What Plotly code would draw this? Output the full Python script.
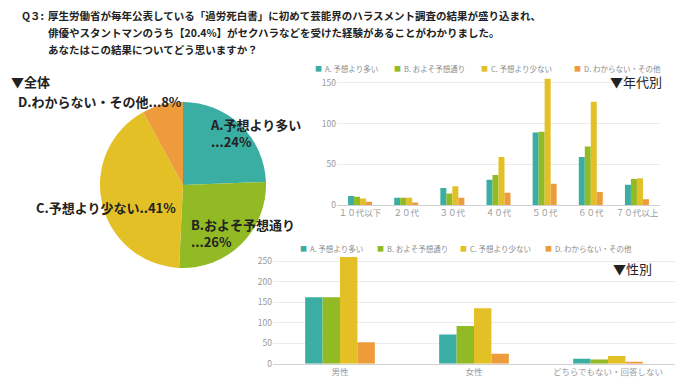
import plotly.graph_objects as go

W, H = 680, 383
FONT = "Noto Sans CJK JP"

series_names = ["A. 予想より多い", "B. およそ予想通り", "C. 予想より少ない", "D. わからない・その他"]
colors = ["#3AAEA3", "#92BA24", "#E3C026", "#EE9B3C"]

age_cats = ["１０代以下", "２０代", "３０代", "４０代", "５０代", "６０代", "７０代以上"]
age_A = [11, 9, 21, 31, 89, 59, 25]
age_B = [10, 9, 14, 37, 90, 72, 32]
age_C = [8, 9, 23, 59, 155, 127, 33]
age_D = [4, 3, 9, 15, 26, 16, 7]

gender_cats = ["男性", "女性", "どちらでもない・回答しない"]
gen_A = [162, 71, 12]
gen_B = [162, 92, 10]
gen_C = [260, 135, 19]
gen_D = [52, 24, 4]

pie_labels = ["A.予想より多い", "B.およそ予想通り", "C.予想より少ない", "D.わからない・その他"]
pie_values = [245, 264, 414, 80]
pie_pct = ["24%", "26%", "41%", "8%"]

title_lines = [
    "厚生労働省が毎年公表している「過労死白書」に初めて芸能界のハラスメント調査の結果が盛り込まれ、",
    "俳優やスタントマンのうち【20.4%】がセクハラなどを受けた経験があることがわかりました。",
    "あなたはこの結果についてどう思いますか？",
]


def px(x):
    return x / W


def py(y):
    return 1 - y / H


fig = go.Figure()

fig.add_trace(go.Pie(
    labels=pie_labels, values=pie_values, sort=False, direction="clockwise",
    marker=dict(colors=colors), textinfo="none", showlegend=False,
    domain=dict(x=[px(100), px(266)], y=[py(268), py(102)]), hoverinfo="skip",
))

for name, vals, c in zip(series_names, [age_A, age_B, age_C, age_D], colors):
    fig.add_trace(go.Bar(x=age_cats, y=vals, name=name, marker=dict(color=c, line=dict(width=0)),
                         xaxis="x", yaxis="y", showlegend=False))
for name, vals, c in zip(series_names, [gen_A, gen_B, gen_C, gen_D], colors):
    fig.add_trace(go.Bar(x=gender_cats, y=vals, name=name, marker=dict(color=c, line=dict(width=0)),
                         xaxis="x2", yaxis="y2", showlegend=False))

axis_font = dict(family=FONT, size=8.5, color="#9a9a9a")
fig.update_layout(
    width=W, height=H, margin=dict(l=0, r=0, t=0, b=0, autoexpand=False),
    paper_bgcolor="white", plot_bgcolor="white",
    font=dict(family=FONT, color="#222"),
    barmode="group",
    bargap=0.48, bargroupgap=0,
    xaxis=dict(domain=[px(337), px(660)], tickfont=axis_font, showgrid=False, ticks="",
               tickangle=0, automargin=False,
               showline=True, linecolor="#d0d0d0", linewidth=1, fixedrange=True),
    yaxis=dict(domain=[py(205), py(74.8)], range=[0, 160], tickvals=[0, 50, 100, 150],
               automargin=False,
               tickfont=axis_font, gridcolor="#ebebeb", zeroline=False, showline=False, ticks=""),
    xaxis2=dict(domain=[px(273), px(675)], tickfont=axis_font, showgrid=False, ticks="",
                tickangle=0, automargin=False,
                showline=True, linecolor="#d0d0d0", linewidth=1, anchor="y2"),
    yaxis2=dict(domain=[py(363.7), py(252.8)], range=[0, 270], tickvals=[0, 50, 100, 150, 200, 250],
                automargin=False,
                tickfont=axis_font, gridcolor="#ebebeb", zeroline=False, showline=False, ticks="",
                anchor="x2"),
)

ann = []


def add(text, x, y, size=13, bold=False, color="#222", xanchor="left", yanchor="middle", align="left"):
    ann.append(dict(text=f"<b>{text}</b>" if bold else text, x=px(x), y=py(y), xref="paper", yref="paper",
                    showarrow=False, xanchor=xanchor, yanchor=yanchor, align=align,
                    font=dict(family=FONT, size=size, color=color)))


# title
add("Q３:", 20, 16, size=10.5, bold=True)
for i, line in enumerate(title_lines):
    add(line, 46, 16 + i * 17, size=10.5, bold=True)

# pie section
add("▼全体", 9, 81, bold=True)
add(f"{pie_labels[3]}...{pie_pct[3]}", 16, 101, bold=True)
add(f"{pie_labels[0]}<br>...{pie_pct[0]}", 208, 133, bold=True)
add(f"{pie_labels[1]}<br>...{pie_pct[1]}", 189, 233, bold=True)
add(f"{pie_labels[2]}..{pie_pct[2]}", 34, 207, bold=True)

add("▼年代別", 608, 82, size=13)
add("▼性別", 611, 268, size=13)

# legends (one row above each bar chart)
age_leg_x = [318, 397, 484, 577]
gen_leg_x = [303, 380, 463, 548]
for lx_list, ly in ((age_leg_x, 68), (gen_leg_x, 248)):
    for lx, name, c in zip(lx_list, series_names, colors):
        add("■", lx, ly, size=7, color=c, xanchor="center")
        add(name, lx + 5, ly, size=7.5, color="#8a8a8a")

fig.update_layout(annotations=ann)
fig.write_html("out.html", config={"displayModeBar": False},
               post_script="document.body.style.margin='0';")
